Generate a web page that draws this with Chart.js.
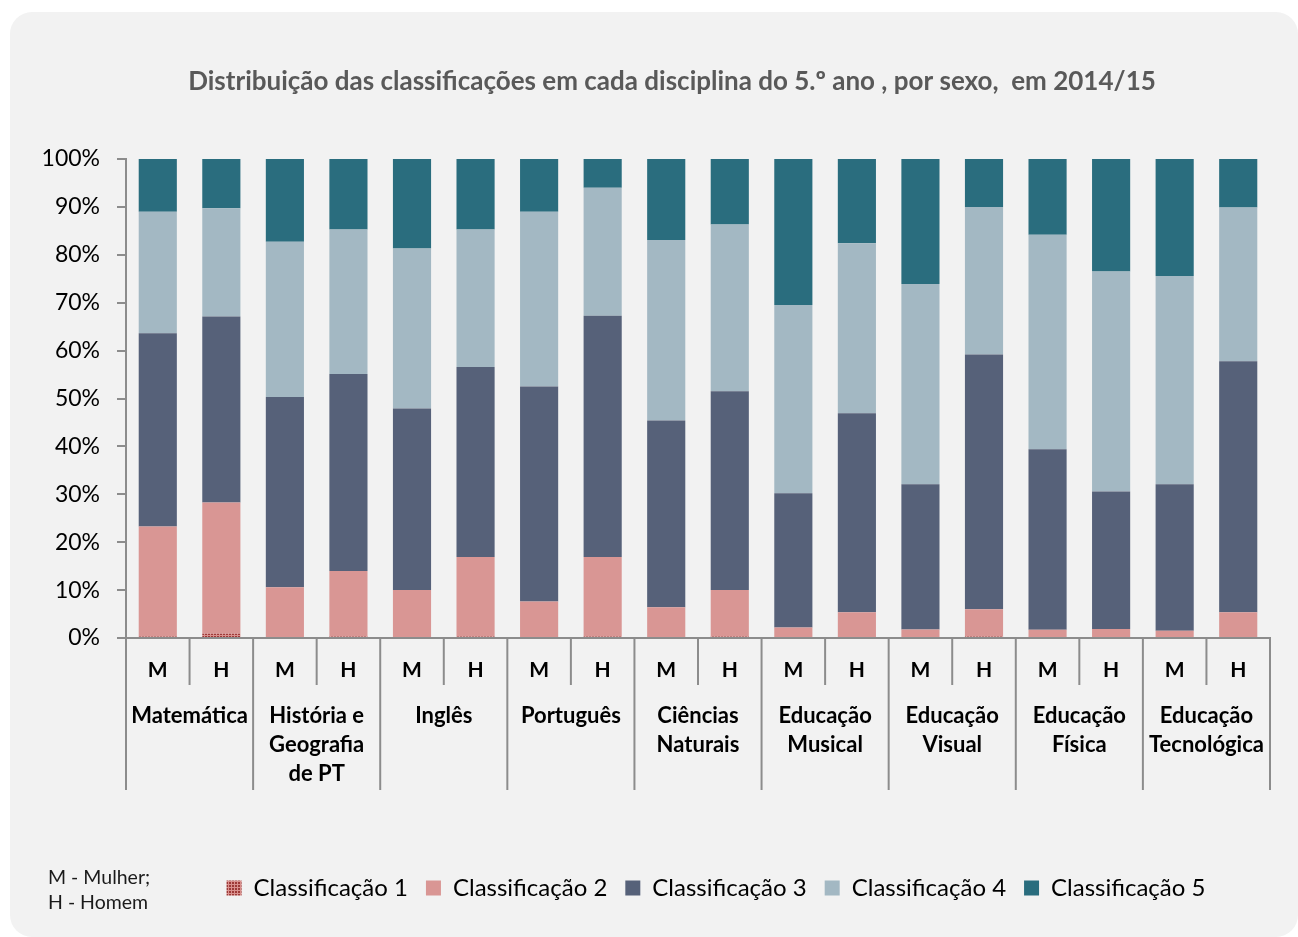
<!DOCTYPE html>
<html>
<head>
<meta charset="utf-8">
<script src="https://cdn.jsdelivr.net/npm/chart.js@4"></script>
<style>
  html, body { margin: 0; padding: 0; background: #ffffff; overflow: hidden; }
  #card {
    position: absolute; left: 10px; top: 12px; width: 1288px; height: 925px;
    background: #f2f2f2; border-radius: 22px;
  }
  #chart { position: absolute; left: 0; top: 0; }
</style>
</head>
<body>
<div id="card"><canvas id="chart" width="1288" height="925"></canvas></div>
<script>
// disciplinas e sexo (M - Mulher, H - Homem)
const disciplinas = [
  ['Matemática'],
  ['História e', 'Geografia', 'de PT'],
  ['Inglês'],
  ['Português'],
  ['Ciências', 'Naturais'],
  ['Educação', 'Musical'],
  ['Educação', 'Visual'],
  ['Educação', 'Física'],
  ['Educação', 'Tecnológica']
];
const sexos = ['M', 'H'];
const yTicks = [0, 10, 20, 30, 40, 50, 60, 70, 80, 90, 100];

// % por classificação (M, H para cada disciplina)
const class1 = [0.3, 0.9, 0, 0.3, 0, 0.3, 0, 0.3, 0, 0.3, 0, 0.2, 0, 0.3, 0, 0.2, 0, 0.2];
const class2 = [23.0, 27.4, 10.6, 13.7, 10.0, 16.6, 7.6, 16.6, 6.4, 9.7, 2.2, 5.2, 1.8, 5.7, 1.7, 1.7, 1.5, 5.2];
const class3 = [40.3, 38.8, 39.7, 41.1, 37.9, 39.7, 44.9, 50.4, 39.0, 41.5, 28.0, 41.5, 30.3, 53.2, 37.7, 28.7, 30.6, 52.4];
const class4 = [25.4, 22.6, 32.4, 30.2, 33.4, 28.7, 36.5, 26.7, 37.7, 34.8, 39.3, 35.5, 41.8, 30.8, 44.8, 45.9, 43.5, 32.1];
const class5 = [11.0, 10.3, 17.3, 14.7, 18.7, 14.7, 11.0, 6.0, 16.9, 13.7, 30.5, 17.6, 26.1, 10.0, 15.8, 23.5, 24.4, 10.1];

const legendas = ['Classificação 1', 'Classificação 2', 'Classificação 3', 'Classificação 4', 'Classificação 5'];

let labels = [];
disciplinas.forEach(function (d) {
  sexos.forEach(function (s) { labels.push(s); });
});

// padrão para a classificação 1
function padrao() {
  let c = document.createElement('canvas');
  c.width = 3; c.height = 3;
  let g = c.getContext('2d');
  g.fillStyle = '#9e3a38';
  g.fillRect(0, 0, 3, 3);
  g.fillStyle = '#d9908d';
  g.fillRect(2, 0, 1, 3);
  g.fillRect(0, 2, 3, 1);
  return g.createPattern(c, 'repeat');
}

const AXIS = '#8c8c8c';
Chart.defaults.font.family = 'Lato';
Chart.defaults.color = '#000000';

// eixo x em dois níveis (sexo / disciplina)
const eixoDuplo = {
  id: 'eixoDuplo',
  afterLayout(chart) {
    // titulo e legenda ligeiramente deslocados para a direita, como no original
    chart.titleBlock.left += 22;
    chart.titleBlock.right += 22;
    chart.legend.left += 18;
    chart.legend.right += 18;
  },
  afterDraw(chart) {
    const ctx = chart.ctx;
    const x = chart.scales.x;
    const area = chart.chartArea;
    const base = area.bottom;
    const passo = x.getPixelForValue(1) - x.getPixelForValue(0);

    ctx.save();
    ctx.strokeStyle = AXIS;
    ctx.lineWidth = 2;
    for (let i = 0; i <= labels.length; i++) {
      let px = x.getPixelForValue(i) - passo / 2;
      if (i == labels.length) px = x.getPixelForValue(i - 1) + passo / 2;
      let comprido = (i % 2 == 0);
      ctx.beginPath();
      ctx.moveTo(px, base);
      ctx.lineTo(px, base + (comprido ? 152 : 47));
      ctx.stroke();
    }

    ctx.fillStyle = '#000000';
    ctx.textAlign = 'center';
    ctx.textBaseline = 'middle';
    ctx.font = 'bold 21px Lato';
    for (let i = 0; i < labels.length; i++) {
      ctx.fillText(labels[i], x.getPixelForValue(i), base + 32);
    }

    ctx.font = 'bold 22px Lato';
    disciplinas.forEach(function (linhas, g) {
      let cx = (x.getPixelForValue(2 * g) + x.getPixelForValue(2 * g + 1)) / 2;
      linhas.forEach(function (t, k) {
        ctx.fillText(t, cx, base + 78 + k * 29);
      });
    });

    // nota
    ctx.textAlign = 'left';
    ctx.font = '19.5px Lato';
    ctx.fillStyle = '#1a1a1a';
    ctx.fillText('M - Mulher;', 38, 866);
    ctx.fillText('H - Homem', 38, 891);
    ctx.restore();
  }
};

const cores = [padrao(), '#d99694', '#566179', '#a3b8c3', '#2a6d7e'];
const series = [class1, class2, class3, class4, class5];

const data = {
  labels: labels,
  datasets: series.map(function (v, i) {
    return {
      label: legendas[i],
      data: v,
      backgroundColor: cores[i],
      borderWidth: 0,
      barPercentage: 0.6,
      categoryPercentage: 1.0
    };
  })
};

const config = {
  type: 'bar',
  data: data,
  options: {
    responsive: false,
    animation: false,
    layout: { padding: { top: 20, left: 20, right: 28, bottom: 27 } },
    scales: {
      x: {
        stacked: true,
        grid: { display: false },
        border: { display: true, color: AXIS, width: 2 },
        ticks: { display: false },
        afterFit: function (scale) { scale.height = 220; }
      },
      y: {
        stacked: true,
        min: 0,
        max: 100,
        afterBuildTicks: function (scale) {
          scale.ticks = yTicks.map(function (v) { return { value: v }; });
        },
        grid: { drawOnChartArea: false, drawTicks: true, tickLength: 9, color: AXIS, lineWidth: 2 },
        border: { display: true, color: AXIS, width: 2 },
        ticks: {
          padding: 17,
          font: { size: 23 },
          color: '#000000',
          callback: function (v) { return v + '%'; }
        },
        afterFit: function (scale) { scale.width = 96; }
      }
    },
    plugins: {
      title: {
        display: true,
        text: 'Distribuição das classificações em cada disciplina do 5.º ano , por sexo,  em 2014/15',
        color: '#595959',
        font: { size: 26, weight: 'bold' },
        padding: { top: 34.4, bottom: 61.4 }
      },
      legend: {
        position: 'bottom',
        fullSize: false,
        labels: {
          boxWidth: 15,
          boxHeight: 15,
          padding: 18,
          color: '#000000',
          font: { size: 24 }
        }
      },
      tooltip: { enabled: false }
    }
  },
  plugins: [eixoDuplo]
};

const myChart = new Chart(document.getElementById('chart'), config);
</script>
</body>
</html>
